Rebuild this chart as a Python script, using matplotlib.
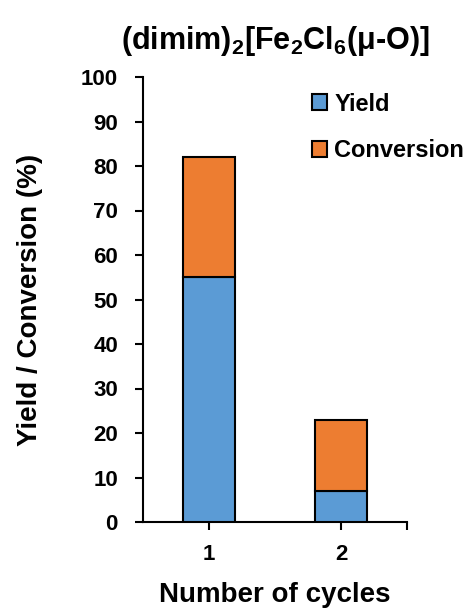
import matplotlib.pyplot as plt
from matplotlib.ticker import FixedLocator

plt.rcParams['font.family'] = ['Liberation Sans', 'DejaVu Sans']
plt.rcParams['font.weight'] = 'bold'
plt.rcParams['mathtext.fontset'] = 'custom'
plt.rcParams['mathtext.bf'] = 'Liberation Sans:bold'
plt.rcParams['mathtext.rm'] = 'Liberation Sans'

cycles = ['1', '2']
yield_pct = [55, 7]
conversion_pct = [82, 23]

x = [1, 2]
rest = [c - y for c, y in zip(conversion_pct, yield_pct)]

fig = plt.figure(figsize=(4.68, 6.09), dpi=100)
ax = fig.add_axes([143 / 468, 1 - 522 / 609, (407 - 143) / 468, (522 - 77) / 609])

ax.bar(x, yield_pct, width=0.4, color='#5B9BD5', edgecolor='black', linewidth=1.5, label='Yield', zorder=3)
ax.bar(x, rest, width=0.4, bottom=yield_pct, color='#ED7D31', edgecolor='black', linewidth=1.5,
       label='Conversion', zorder=3)

ax.set_xlim(0.5, 2.5)
ax.set_ylim(0, 100)
ax.set_yticks(range(0, 101, 10))
ax.set_xticks(x)
ax.set_xticklabels(cycles)
ax.xaxis.set_minor_locator(FixedLocator([2.5]))
ax.tick_params(axis='both', labelsize=16, width=1.5, length=6, direction='out')
ax.tick_params(axis='x', which='minor', width=1.5, length=6)
ax.tick_params(axis='x', pad=10)
ax.tick_params(axis='y', pad=12)

for s in ['top', 'right']:
    ax.spines[s].set_visible(False)
for s in ['left', 'bottom']:
    ax.spines[s].set_linewidth(1.5)

ax.set_xlabel('Number of cycles', fontsize=20, fontweight='bold', labelpad=12)
ax.set_ylabel('Yield / Conversion (%)', fontsize=20, fontweight='bold', labelpad=27)
ax.set_title(r'(dimim)$_\mathbf{2}$[Fe$_\mathbf{2}$Cl$_\mathbf{6}$($\mathbf{\mu}$-O)]', fontsize=22,
             fontweight='bold', pad=20)

ax.legend(loc='upper left', bbox_to_anchor=(0.64, 0.965), frameon=False, fontsize=17,
          borderpad=0, borderaxespad=0,
          handlelength=0.65, handleheight=0.65, handletextpad=0.3, labelspacing=1.0)

fig.savefig('out.png', dpi=100)
